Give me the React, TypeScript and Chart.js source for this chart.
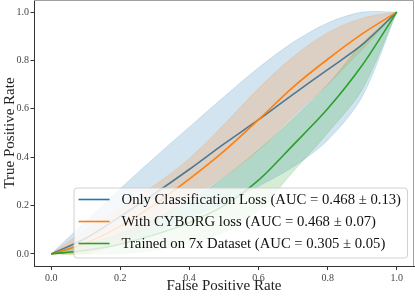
import React, { useEffect, useRef } from 'react';
import { Chart, registerables } from 'chart.js';
Chart.register(...registerables);

const FPR = [0, 0.1, 0.2, 0.3, 0.4, 0.5, 0.6, 0.7, 0.8, 0.9, 1.0];
const classMean = [0, 0.065, 0.155, 0.25, 0.35, 0.455, 0.555, 0.66, 0.762, 0.865, 1.0];
const classUpper = [0, 0.135, 0.27, 0.4, 0.525, 0.65, 0.77, 0.875, 0.955, 1.0, 1.0];
const classLower = [0, 0.01, 0.04, 0.09, 0.15, 0.21, 0.28, 0.36, 0.47, 0.65, 1.0];
const cyborgMean = [0, 0.045, 0.115, 0.205, 0.31, 0.425, 0.555, 0.69, 0.805, 0.91, 1.0];
const cyborgUpper = [0, 0.1, 0.19, 0.285, 0.395, 0.535, 0.685, 0.815, 0.915, 0.975, 1.0];
const cyborgLower = [0, 0.0, 0.045, 0.13, 0.23, 0.32, 0.43, 0.57, 0.7, 0.845, 1.0];
const sevenMean = [0, 0.015, 0.04, 0.08, 0.13, 0.2, 0.305, 0.45, 0.6, 0.78, 1.0];
const sevenUpper = [0, 0.04, 0.085, 0.145, 0.22, 0.315, 0.43, 0.56, 0.7, 0.87, 1.0];
const sevenLower = [0, 0, 0, 0.015, 0.045, 0.09, 0.18, 0.34, 0.5, 0.68, 1.0];

const seriesLabels = [
  'Only Classification Loss (AUC = 0.468 \u00b1 0.13)',
  'With CYBORG loss (AUC = 0.468 \u00b1 0.07)',
  'Trained on 7x Dataset (AUC = 0.305 \u00b1 0.05)',
];
const xTicks = [0, 0.2, 0.4, 0.6, 0.8, 1.0];
const yTicks = [0, 0.2, 0.4, 0.6, 0.8, 1.0];

const COLORS = ['#1f77b4', '#ff7f0e', '#2ca02c'];
const BANDS = ['rgba(31,119,180,0.2)', 'rgba(255,127,14,0.2)', 'rgba(44,160,44,0.2)'];
const SERIF = '"Liberation Serif", "Times New Roman", serif';

const pts = (ys: number[]) => FPR.map((x, i) => ({ x, y: ys[i] }));

const framePlugin = {
  id: 'frame',
  afterDraw(chart: any) {
    const { ctx, chartArea: a } = chart;
    ctx.save();
    ctx.strokeStyle = '#a0a0a0';
    ctx.lineWidth = 1;
    ctx.beginPath();
    ctx.moveTo(a.left, a.top + 0.5);
    ctx.lineTo(a.right - 0.5, a.top + 0.5);
    ctx.lineTo(a.right - 0.5, a.bottom);
    ctx.stroke();
    ctx.restore();
  },
};

const legendPlugin = {
  id: 'boxLegend',
  afterDraw(chart: any) {
    const { ctx, chartArea: a } = chart;
    ctx.save();
    ctx.font = `14.7px ${SERIF}`;
    const tw = Math.max(...seriesLabels.map((t) => ctx.measureText(t).width));
    const right = a.right - 7;
    const bottom = a.bottom - 8.5;
    const top = bottom - 70;
    const left = right - (5 + 31 + 12 + tw + 6);
    ctx.beginPath();
    ctx.roundRect(left + 0.5, top + 0.5, right - left, bottom - top, 3);
    ctx.fillStyle = 'rgba(255,255,255,0.8)';
    ctx.fill();
    ctx.strokeStyle = 'rgba(204,204,204,0.9)';
    ctx.lineWidth = 1;
    ctx.stroke();
    seriesLabels.forEach((t, i) => {
      const y = top + 12 + i * 22;
      ctx.strokeStyle = COLORS[i];
      ctx.lineWidth = 1.6;
      ctx.beginPath();
      ctx.moveTo(left + 5, y);
      ctx.lineTo(left + 36, y);
      ctx.stroke();
      ctx.fillStyle = '#111';
      ctx.textBaseline = 'middle';
      ctx.textAlign = 'left';
      ctx.fillText(t, left + 48, y + 1);
    });
    ctx.restore();
  },
};

export default function App() {
  const ref = useRef<HTMLCanvasElement>(null);
  useEffect(() => {
    document.body.style.margin = '0';
    const means = [classMean, cyborgMean, sevenMean];
    const uppers = [classUpper, cyborgUpper, sevenUpper];
    const lowers = [classLower, cyborgLower, sevenLower];
    const datasets: any[] = [];
    means.forEach((m, i) => {
      const base = datasets.length;
      const ord = 100 - i * 10;
      datasets.push({
        label: 'lower' + i,
        data: pts(lowers[i]),
        borderColor: BANDS[i],
        borderWidth: 0.8,
        pointRadius: 0,
        fill: false,
        order: ord,
        tension: 0.3,
      });
      datasets.push({
        label: 'upper' + i,
        data: pts(uppers[i]),
        borderColor: BANDS[i],
        borderWidth: 0.8,
        backgroundColor: BANDS[i],
        pointRadius: 0,
        fill: { target: base },
        order: ord - 1,
        tension: 0.3,
      });
      datasets.push({
        label: seriesLabels[i],
        data: pts(m),
        borderColor: COLORS[i],
        borderWidth: 1.6,
        pointRadius: 0,
        fill: false,
        order: ord - 2,
        tension: 0.3,
      });
    });
    const tickFont = { family: SERIF, size: 10 };
    const chart = new Chart(ref.current!, {
      type: 'line',
      data: { datasets },
      options: {
        animation: false,
        responsive: false,
        parsing: false as any,
        layout: { padding: { left: 0, right: 1, top: 0, bottom: 0 } },
        plugins: { legend: { display: false }, tooltip: { enabled: false } },
        scales: {
          x: {
            type: 'linear',
            min: -0.05,
            max: 1.05,
            afterBuildTicks: (s: any) => { s.ticks = xTicks.map((v) => ({ value: v })); },
            afterFit: (s: any) => { s.height = 31; s.paddingLeft = 0; s.paddingRight = 0; },
            ticks: { font: tickFont, color: '#444', padding: 2, maxRotation: 0, callback: (v: any) => Number(v).toFixed(1) },
            grid: { drawOnChartArea: false, drawTicks: true, tickLength: 4, tickColor: '#333', tickWidth: 1 },
            border: { display: true, color: '#333', width: 1 },
            title: { display: true, text: 'False Positive Rate', font: { family: SERIF, size: 15 }, color: '#222', padding: { top: 0, bottom: 2 } },
          },
          y: {
            type: 'linear',
            min: -0.05,
            max: 1.05,
            afterBuildTicks: (s: any) => { s.ticks = yTicks.map((v) => ({ value: v })); },
            afterFit: (s: any) => { s.width = 34; s.paddingTop = 0; s.paddingBottom = 0; },
            ticks: { font: tickFont, color: '#444', padding: 1.5, callback: (v: any) => Number(v).toFixed(1) },
            grid: { drawOnChartArea: false, drawTicks: true, tickLength: 3.5, tickColor: '#333', tickWidth: 1 },
            border: { display: true, color: '#333', width: 1 },
            title: { display: true, text: 'True Positive Rate', font: { family: SERIF, size: 15 }, color: '#222', padding: { top: 1, bottom: 0 } },
          },
        },
      },
      plugins: [framePlugin, legendPlugin],
    });
    return () => chart.destroy();
  }, []);
  return (
    <div style={{ position: 'relative', width: 415, height: 297 }}>
      <canvas ref={ref} width={415} height={297} style={{ display: 'block' }} />
    </div>
  );
}
